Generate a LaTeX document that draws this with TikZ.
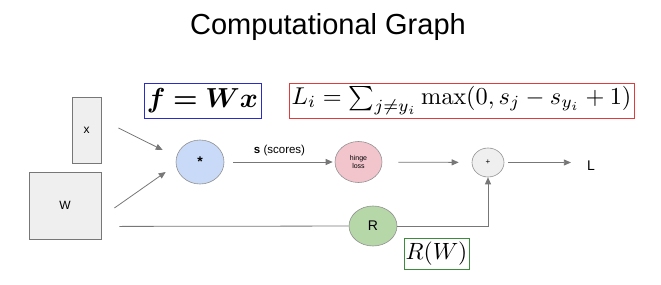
\documentclass[tikz,border=0pt]{standalone}
\usepackage{graphicx}
\usepackage{bm}
\usepackage[no-math]{fontspec}
\setmainfont{Liberation Sans}
\usetikzlibrary{arrows.meta,shapes.geometric}
\definecolor{linegray}{HTML}{777777}
\definecolor{boxgray}{HTML}{EFEFEF}
\definecolor{mulblue}{HTML}{C9DAF8}
\definecolor{hingepink}{HTML}{F2C4CC}
\definecolor{rgreen}{HTML}{B6D7A8}
\definecolor{fblue}{HTML}{2B2BC8}
\definecolor{lred}{HTML}{E03C3C}
\definecolor{rwgreen}{HTML}{3D8B3D}
\begin{document}
\begin{tikzpicture}[x=1pt,y=-1pt,
		arr/.style={draw=linegray,line width=.8pt,-{Triangle[length=7pt,width=6pt]}},
		op/.style={ellipse,draw=linegray!80,line width=.6pt,inner sep=0pt},
		var/.style={draw=linegray,fill=boxgray,line width=.8pt,inner sep=0pt,font=\fontsize{12}{14}\selectfont},
		eq/.style={draw,line width=1pt,inner sep=0pt}]
	\useasboundingbox (0,0) rectangle (661,284);
	\node[anchor=base] (title) at (328,34) {\fontsize{29}{34}\selectfont Computational Graph};
	\node[var,minimum width=29pt,minimum height=66pt] (x) at (86.5,130) {x};
	\node[var,minimum width=72pt,minimum height=67pt] (W) at (65,205.5) {W};
	\node[op,fill=mulblue,minimum width=48pt,minimum height=44pt,font=\fontsize{14}{14}\selectfont\bfseries] (mul) at (200,162) {*};
	\node[op,fill=hingepink,minimum width=47pt,minimum height=41pt,align=center,font=\fontsize{7}{7.5}\selectfont] (hinge) at (358.5,162) {hinge\\loss};
	\node[op,fill=boxgray,minimum width=32pt,minimum height=29pt,font=\fontsize{8}{8}\selectfont] (plus) at (488,162.5) {+};
	\node[inner sep=0pt,font=\fontsize{14}{14}\selectfont] (L) at (591,166) {L};
	\node[op,fill=rgreen,minimum width=48pt,minimum height=40pt,font=\fontsize{14}{14}\selectfont] (R) at (373,226) {R};
	\node[eq,draw=fblue,minimum width=117pt,minimum height=35pt] (f) at (202.5,100.5) {\scalebox{2.75}{$\bm{f=Wx}$}};
	\node[eq,draw=lred,minimum width=345pt,minimum height=35pt] (Li) at (461.5,100.5) {\scalebox{2.43}{$L_i=\sum_{j\neq y_i}\max(0,s_j-s_{y_i}+1)$}};
	\node[eq,draw=rwgreen,minimum width=65pt,minimum height=31pt] (RW) at (436.5,253.5) {\scalebox{2.35}{$R(W)$}};
	\draw[arr] ([xshift=17pt,yshift=2pt]x.east) -- ([xshift=-13pt,yshift=12pt]mul.west);
	\draw[arr] ([xshift=13pt,yshift=-2.5pt]W.east) -- ([xshift=-10pt,yshift=-10pt]mul.west);
	\draw[arr,shorten <=9pt,shorten >=2pt] (mul) -- node[above=2pt,font=\fontsize{11.5}{12}\selectfont]{\textbf{s} (scores)} (hinge);
	\draw[arr,shorten <=16pt,shorten >=13pt] (hinge) -- (plus);
	\draw[arr,shorten <=4pt,shorten >=16pt] (plus.east) -- (L.west |- plus.east);
	\draw[draw=linegray,line width=.8pt] ([xshift=18pt,yshift=13pt]W.south east) -- (R);
	\draw[arr] (R) -| (plus);
\end{tikzpicture}
\end{document}
